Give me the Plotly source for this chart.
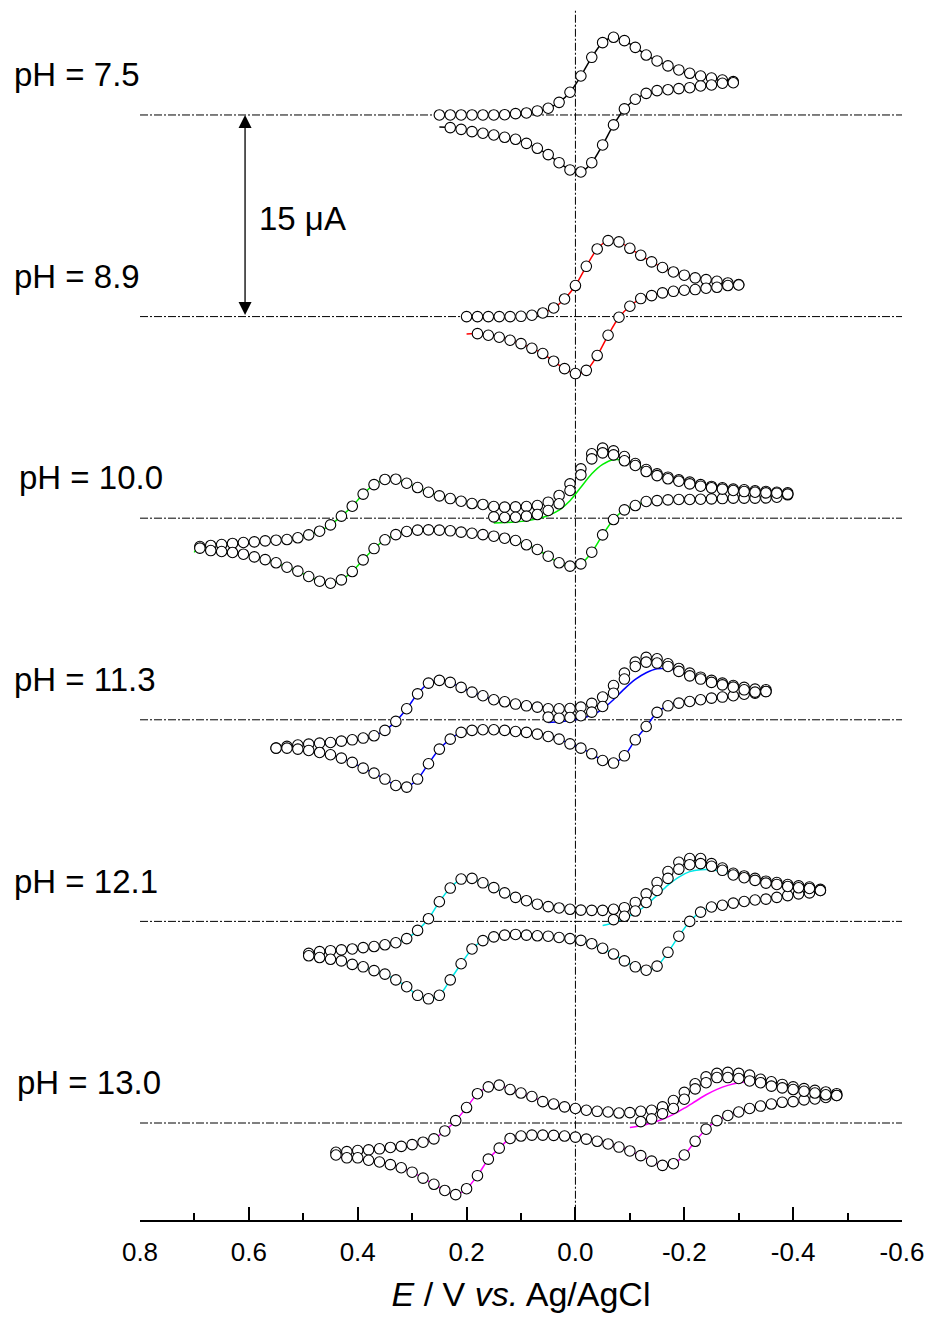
import plotly.graph_objects as go

# ---------------- data (E in V vs Ag/AgCl, I in µA relative to each baseline) ----------------
PH_LABELS = ["pH = 7.5", "pH = 8.9", "pH = 10.0", "pH = 11.3", "pH = 12.1", "pH = 13.0"]
OFFSETS = [75, 60, 45, 30, 15, 0]          # vertical stacking offsets, µA (15 µA apart)
LINE_COLORS = ["#000000", "#ff0000", "#00ee00", "#0000ff", "#00e8e8", "#ff00ff"]

# pH 7.5
E75_UP = [0.25, 0.23, 0.21, 0.19, 0.17, 0.15, 0.13, 0.11, 0.09, 0.07, 0.05, 0.03, 0.01, -0.01,
          -0.03, -0.05, -0.07, -0.09, -0.11, -0.13, -0.15, -0.17, -0.19, -0.21, -0.23, -0.25, -0.27, -0.29]
I75_UP = [0, 0, 0, 0, 0, 0, 0.02, 0.1, 0.15, 0.3, 0.5, 0.94, 1.69, 2.9,
          4.29, 5.38, 5.78, 5.53, 5.03, 4.46, 4.02, 3.65, 3.35, 3.1, 2.9, 2.75, 2.6, 2.48]
E75_LOW = [-0.29, -0.27, -0.25, -0.23, -0.21, -0.19, -0.17, -0.15, -0.13, -0.11, -0.09, -0.07, -0.05, -0.03,
           -0.01, 0.01, 0.03, 0.05, 0.07, 0.09, 0.11, 0.13, 0.15, 0.17, 0.19, 0.21, 0.23]
I75_LOW = [2.4, 2.36, 2.23, 2.16, 2.03, 1.96, 1.88, 1.81, 1.61, 1.17, 0.45, -0.74, -2.23, -3.55,
           -4.24, -4.09, -3.55, -2.95, -2.48, -2.11, -1.81, -1.66, -1.49, -1.36, -1.24, -1.07, -0.94]
E75_END, I75_END = 0.25, -0.9

# pH 8.9
E89_UP = [0.20, 0.18, 0.16, 0.14, 0.12, 0.10, 0.08, 0.06, 0.04, 0.02, 0.0, -0.02, -0.04, -0.06,
          -0.08, -0.10, -0.12, -0.14, -0.16, -0.18, -0.20, -0.22, -0.24, -0.26, -0.28, -0.30]
I89_UP = [0, 0, 0, 0, 0, 0.02, 0.1, 0.27, 0.64, 1.31, 2.31, 3.74, 5.03, 5.65,
          5.56, 5.08, 4.56, 4.07, 3.65, 3.32, 3.08, 2.88, 2.75, 2.63, 2.5, 2.38]
E89_LOW = [-0.30, -0.28, -0.26, -0.24, -0.22, -0.20, -0.18, -0.16, -0.14, -0.12, -0.10, -0.08, -0.06,
           -0.04, -0.02, 0.0, 0.02, 0.04, 0.06, 0.08, 0.10, 0.12, 0.14, 0.16, 0.18]
I89_LOW = [2.35, 2.31, 2.18, 2.11, 2.01, 1.96, 1.88, 1.76, 1.56, 1.34, 0.77, -0.05, -1.39,
           -2.9, -4.0, -4.24, -3.87, -3.32, -2.75, -2.36, -2.01, -1.76, -1.54, -1.39, -1.27]
E89_END, I89_END = 0.20, -1.29

# pH 10.0
E10_UP = [0.69, 0.67, 0.65, 0.63, 0.61, 0.59, 0.57, 0.55, 0.53, 0.51, 0.49, 0.47, 0.45, 0.43, 0.41,
          0.39, 0.37, 0.35, 0.33, 0.31, 0.29, 0.27, 0.25, 0.23, 0.21, 0.19, 0.17, 0.15, 0.13, 0.11,
          0.09, 0.07, 0.05, 0.03, 0.01, -0.01, -0.03, -0.05, -0.07, -0.09, -0.11, -0.13, -0.15, -0.17,
          -0.19, -0.21, -0.23, -0.25, -0.27, -0.29, -0.31, -0.33, -0.35, -0.37, -0.39]
I10_UP = [-2.11, -2.03, -1.96, -1.88, -1.81, -1.76, -1.69, -1.64, -1.59, -1.46, -1.24, -0.97, -0.5, 0.15,
          0.89, 1.79, 2.5, 2.88, 2.9, 2.6, 2.28, 1.93, 1.66, 1.46, 1.26, 1.09, 1.02, 0.87, 0.82,
          0.84, 0.87, 0.94, 1.19, 1.69, 2.55, 3.67, 4.79, 5.21, 5.01, 4.59, 4.07, 3.62, 3.3, 3.05,
          2.85, 2.68, 2.5, 2.36, 2.26, 2.16, 2.11, 2.03, 1.98, 1.93, 1.88]
E10_LOW = [-0.39, -0.37, -0.35, -0.33, -0.31, -0.29, -0.27, -0.25, -0.23, -0.21, -0.19, -0.17, -0.15,
           -0.13, -0.11, -0.09, -0.07, -0.05, -0.03, -0.01, 0.01, 0.03, 0.05, 0.07, 0.09, 0.11, 0.13,
           0.15, 0.17, 0.19, 0.21, 0.23, 0.25, 0.27, 0.29, 0.31, 0.33, 0.35, 0.37, 0.39, 0.41, 0.43,
           0.45, 0.47, 0.49, 0.51, 0.53, 0.55, 0.57, 0.59, 0.61, 0.63, 0.65, 0.67, 0.69]
I10_LOW = [1.74, 1.56, 1.51, 1.49, 1.49, 1.49, 1.46, 1.44, 1.41, 1.39, 1.39, 1.36, 1.31,
           1.24, 0.94, 0.62, -0.1, -1.24, -2.53, -3.4, -3.57, -3.32, -2.83, -2.33, -1.98, -1.66, -1.49,
           -1.34, -1.22, -1.12, -1.04, -0.94, -0.89, -0.87, -0.89, -0.99, -1.22, -1.61, -2.26, -3.1, -3.97,
           -4.59, -4.84, -4.69, -4.34, -3.94, -3.65, -3.32, -3.08, -2.88, -2.68, -2.55, -2.48, -2.41, -2.23]
E10_LINE_END, I10_LINE_END = 0.70, -2.5
E10_S1 = [0.15, 0.13, 0.11, 0.09, 0.07, 0.05, 0.03, 0.01, -0.01, -0.03, -0.05, -0.07, -0.09, -0.11,
          -0.13, -0.15, -0.17, -0.19, -0.21, -0.23, -0.25, -0.27, -0.29, -0.31, -0.33, -0.35, -0.37, -0.39]
I10_S1 = [0.1, 0.05, 0.07, 0.15, 0.27, 0.57, 1.07, 2.06, 3.22, 4.41, 4.86, 4.71, 4.27, 3.92,
          3.47, 3.17, 2.93, 2.75, 2.55, 2.38, 2.26, 2.16, 2.06, 1.98, 1.93, 1.88, 1.86, 1.79]
I10_SIM = [-0.35, -0.33, -0.28, -0.2, -0.05, 0.2, 0.6, 1.3, 2.3, 3.3, 4.0, 4.35, 4.3, 4.0,
           3.6, 3.25, 2.95, 2.75, 2.55, 2.4, 2.3, 2.2, 2.1, 2.0, 1.95, 1.9, 1.85, 1.8]

# pH 11.3
E11_UP = [0.55, 0.53, 0.51, 0.49, 0.47, 0.45, 0.43, 0.41, 0.39, 0.37, 0.35, 0.33, 0.31, 0.29, 0.27,
          0.25, 0.23, 0.21, 0.19, 0.17, 0.15, 0.13, 0.11, 0.09, 0.07, 0.05, 0.03, 0.01, -0.01, -0.03,
          -0.05, -0.07, -0.09, -0.11, -0.13, -0.15, -0.17, -0.19, -0.21, -0.23, -0.25, -0.27, -0.29,
          -0.31, -0.33, -0.35]
I11_UP = [-2.11, -1.98, -1.88, -1.81, -1.74, -1.69, -1.59, -1.49, -1.36, -1.19, -0.79, -0.12, 0.82, 1.93,
          2.73, 2.93, 2.78, 2.41, 2.06, 1.79, 1.49, 1.34, 1.17, 1.04, 0.94, 0.82, 0.82, 0.84, 0.94, 1.22,
          1.69, 2.55, 3.47, 4.29, 4.64, 4.54, 4.17, 3.82, 3.47, 3.17, 2.93, 2.73, 2.55, 2.41, 2.28, 2.23]
E11_LOW = [-0.35, -0.33, -0.31, -0.29, -0.27, -0.25, -0.23, -0.21, -0.19, -0.17, -0.15, -0.13, -0.11,
           -0.09, -0.07, -0.05, -0.03, -0.01, 0.01, 0.03, 0.05, 0.07, 0.09, 0.11, 0.13, 0.15, 0.17, 0.19,
           0.21, 0.23, 0.25, 0.27, 0.29, 0.31, 0.33, 0.35, 0.37, 0.39, 0.41, 0.43, 0.45, 0.47, 0.49,
           0.51, 0.53, 0.55]
I11_LOW = [2.11, 1.98, 1.9, 1.79, 1.69, 1.61, 1.49, 1.36, 1.24, 1.04, 0.55, -0.5, -1.49,
           -2.68, -3.22, -3.03, -2.53, -2.11, -1.79, -1.44, -1.24, -1.07, -0.94, -0.87, -0.79, -0.74, -0.74,
           -0.79, -0.94, -1.44, -2.18, -3.27, -4.41, -5.01, -4.89, -4.41, -3.97, -3.6, -3.17, -2.85, -2.6,
           -2.43, -2.28, -2.18, -2.11, -2.11]
E11_S1 = [0.05, 0.03, 0.01, -0.01, -0.03, -0.05, -0.07, -0.09, -0.11, -0.13, -0.15, -0.17, -0.19,
          -0.21, -0.23, -0.25, -0.27, -0.29, -0.31, -0.33, -0.35]
I11_S1 = [0.2, 0.12, 0.17, 0.3, 0.57, 0.99, 1.98, 3.03, 3.97, 4.29, 4.22, 3.97, 3.6,
          3.27, 3.03, 2.78, 2.6, 2.43, 2.23, 2.06, 2.1]
I11_SIM = [-0.2, -0.15, -0.05, 0.1, 0.35, 0.8, 1.5, 2.3, 3.0, 3.5, 3.8, 3.8, 3.65,
           3.4, 3.15, 2.95, 2.75, 2.55, 2.4, 2.25, 2.1]

# pH 12.1
E12_UP = [0.49, 0.47, 0.45, 0.43, 0.41, 0.39, 0.37, 0.35, 0.33, 0.31, 0.29, 0.27, 0.25, 0.23, 0.21,
          0.19, 0.17, 0.15, 0.13, 0.11, 0.09, 0.07, 0.05, 0.03, 0.01, -0.01, -0.03, -0.05, -0.07, -0.09,
          -0.11, -0.13, -0.15, -0.17, -0.19, -0.21, -0.23, -0.25, -0.27, -0.29, -0.31, -0.33, -0.35,
          -0.37, -0.39, -0.41, -0.43, -0.45]
I12_UP = [-2.38, -2.25, -2.18, -2.12, -2.05, -1.95, -1.87, -1.74, -1.59, -1.28, -0.67, 0.2, 1.46, 2.48,
          3.15, 3.2, 2.87, 2.51, 2.12, 1.79, 1.54, 1.28, 1.1, 1.0, 0.9, 0.84, 0.82, 0.82, 0.9, 1.02,
          1.41, 2.05, 2.89, 3.71, 4.4, 4.68, 4.68, 4.3, 3.97, 3.58, 3.38, 3.2, 2.99, 2.89, 2.74, 2.64,
          2.56, 2.38]
E12_LOW = [-0.45, -0.43, -0.41, -0.39, -0.37, -0.35, -0.33, -0.31, -0.29, -0.27, -0.25, -0.23, -0.21,
           -0.19, -0.17, -0.15, -0.13, -0.11, -0.09, -0.07, -0.05, -0.03, -0.01, 0.01, 0.03, 0.05, 0.07,
           0.09, 0.11, 0.13, 0.15, 0.17, 0.19, 0.21, 0.23, 0.25, 0.27, 0.29, 0.31, 0.33, 0.35, 0.37,
           0.39, 0.41, 0.43, 0.45, 0.47, 0.49]
I12_LOW = [2.3, 2.12, 2.05, 1.92, 1.79, 1.66, 1.59, 1.48, 1.36, 1.2, 1.07, 0.69, 0.0,
           -1.1, -2.3, -3.33, -3.63, -3.38, -2.94, -2.43, -2.0, -1.66, -1.41, -1.28, -1.2, -1.1, -1.07,
           -1.02, -0.97, -1.02, -1.15, -1.43, -2.05, -3.15, -4.35, -5.5, -5.76, -5.5, -4.86, -4.35, -3.92,
           -3.66, -3.38, -3.2, -2.94, -2.82, -2.69, -2.56]
E12_S1 = [-0.07, -0.09, -0.11, -0.13, -0.15, -0.17, -0.19, -0.21, -0.23, -0.25, -0.27, -0.29, -0.31,
          -0.33, -0.35, -0.37, -0.39, -0.41, -0.43, -0.45]
I12_S1 = [0.13, 0.38, 0.77, 1.41, 2.3, 3.2, 3.89, 4.22, 4.3, 4.1, 3.8, 3.45, 3.25,
          3.05, 2.85, 2.75, 2.6, 2.5, 2.45, 2.3]
E12_SIM = [-0.05, -0.07, -0.09, -0.11, -0.13, -0.15, -0.17, -0.19, -0.21, -0.23, -0.25, -0.27, -0.29,
           -0.31, -0.33, -0.35, -0.37, -0.39, -0.41, -0.43, -0.45]
I12_SIM = [-0.31, -0.1, 0.25, 0.64, 1.2, 1.95, 2.7, 3.3, 3.7, 3.85, 3.85, 3.7, 3.5,
           3.3, 3.1, 2.95, 2.8, 2.65, 2.5, 2.4, 2.3]

# pH 13.0
E13_UP = [0.44, 0.42, 0.40, 0.38, 0.36, 0.34, 0.32, 0.30, 0.28, 0.26, 0.24, 0.22, 0.20, 0.18, 0.16,
          0.14, 0.12, 0.10, 0.08, 0.06, 0.04, 0.02, 0.0, -0.02, -0.04, -0.06, -0.08, -0.10, -0.12, -0.14,
          -0.16, -0.18, -0.20, -0.22, -0.24, -0.26, -0.28, -0.30, -0.32, -0.34, -0.36, -0.38, -0.40,
          -0.42, -0.44, -0.46, -0.48]
I13_UP = [-2.18, -2.13, -2.05, -2.0, -1.92, -1.82, -1.74, -1.61, -1.43, -1.18, -0.59, 0.18, 1.15, 2.18,
          2.69, 2.82, 2.49, 2.23, 1.97, 1.59, 1.41, 1.2, 1.08, 0.95, 0.87, 0.82, 0.74, 0.77, 0.87, 0.95,
          1.2, 1.67, 2.28, 2.92, 3.43, 3.69, 3.77, 3.69, 3.56, 3.25, 3.07, 2.87, 2.69, 2.56, 2.43, 2.31,
          2.18]
E13_LOW = [-0.48, -0.46, -0.44, -0.42, -0.40, -0.38, -0.36, -0.34, -0.32, -0.30, -0.28, -0.26, -0.24,
           -0.22, -0.20, -0.18, -0.16, -0.14, -0.12, -0.10, -0.08, -0.06, -0.04, -0.02, 0.0, 0.02, 0.04,
           0.06, 0.08, 0.10, 0.12, 0.14, 0.16, 0.18, 0.20, 0.22, 0.24, 0.26, 0.28, 0.30, 0.32, 0.34,
           0.36, 0.38, 0.40, 0.42, 0.44]
I13_LOW = [2.05, 1.9, 1.79, 1.72, 1.59, 1.54, 1.41, 1.26, 1.08, 0.82, 0.56, 0.18, -0.46,
           -1.36, -2.38, -3.03, -3.15, -2.84, -2.43, -2.08, -1.79, -1.56, -1.36, -1.2, -1.05, -0.97, -0.92,
           -0.9, -0.9, -0.97, -1.15, -1.87, -2.69, -3.92, -4.89, -5.33, -5.02, -4.56, -4.1, -3.66, -3.33,
           -3.1, -2.9, -2.77, -2.59, -2.59, -2.38]
E13_S1 = [-0.12, -0.14, -0.16, -0.18, -0.20, -0.22, -0.24, -0.26, -0.28, -0.30, -0.32, -0.34, -0.36,
          -0.38, -0.40, -0.42, -0.44, -0.46, -0.48]
I13_S1 = [0.1, 0.31, 0.69, 1.08, 1.77, 2.54, 3.0, 3.38, 3.38, 3.31, 3.13, 3.0, 2.74,
          2.61, 2.49, 2.36, 2.23, 2.1, 2.05]
E13_SIM = [-0.10, -0.12, -0.14, -0.16, -0.18, -0.20, -0.22, -0.24, -0.26, -0.28, -0.30, -0.32, -0.34,
           -0.36, -0.38, -0.40, -0.42, -0.44, -0.46, -0.48]
I13_SIM = [-0.33, -0.2, 0.0, 0.28, 0.64, 1.1, 1.6, 2.1, 2.5, 2.8, 3.0, 3.05, 3.0,
           2.9, 2.75, 2.6, 2.45, 2.3, 2.15, 2.0]

X_TICKS = [0.8, 0.6, 0.4, 0.2, 0.0, -0.2, -0.4, -0.6]
X_TICK_TEXT = ["0.8", "0.6", "0.4", "0.2", "0.0", "-0.2", "-0.4", "-0.6"]
X_MINOR = [0.7, 0.5, 0.3, 0.1, -0.1, -0.3, -0.5]
SCALE_BAR_UA = 15

# ---------------- assemble curves ----------------
FONT = "Liberation Sans, Arial, Helvetica, sans-serif"
curves = [
    dict(ue=E75_UP, ui=I75_UP, le=E75_LOW, li=I75_LOW, end=(E75_END, I75_END)),
    dict(ue=E89_UP, ui=I89_UP, le=E89_LOW, li=I89_LOW, end=(E89_END, I89_END)),
    dict(ue=E10_UP, ui=I10_UP, le=E10_LOW, li=I10_LOW, se=E10_S1, si=I10_S1, me=E10_S1, mi=I10_SIM,
         turn=(E10_LINE_END, I10_LINE_END)),
    dict(ue=E11_UP, ui=I11_UP, le=E11_LOW, li=I11_LOW, se=E11_S1, si=I11_S1, me=E11_S1, mi=I11_SIM),
    dict(ue=E12_UP, ui=I12_UP, le=E12_LOW, li=I12_LOW, se=E12_S1, si=I12_S1, me=E12_SIM, mi=I12_SIM),
    dict(ue=E13_UP, ui=I13_UP, le=E13_LOW, li=I13_LOW, se=E13_S1, si=I13_S1, me=E13_SIM, mi=I13_SIM),
]

fig = go.Figure()
marker = dict(symbol="circle", size=10.5, color="white", line=dict(color="black", width=1.1))

for c, off, col in zip(curves, OFFSETS, LINE_COLORS):
    if "me" in c:
        e_start = c["me"][0]
        k = sum(1 for e in c["ue"] if e > e_start + 1e-9)
        lx = list(c["me"]) + list(c["le"])
        ly = list(c["mi"]) + list(c["li"])
        if "turn" in c:
            lx += [c["turn"][0]]
            ly += [c["turn"][1]]
        lx += list(c["ue"][:k + 1])
        ly += list(c["ui"][:k + 1])
    else:
        lx = list(c["ue"]) + list(c["le"]) + [c["end"][0]]
        ly = list(c["ui"]) + list(c["li"]) + [c["end"][1]]
    fig.add_trace(go.Scatter(x=lx, y=[v + off for v in ly], mode="lines",
                             line=dict(color=col, width=1.5, shape="spline", smoothing=0.8),
                             hoverinfo="skip", showlegend=False))
    mx = list(c["ue"]) + list(c["le"])
    my = list(c["ui"]) + list(c["li"])
    if "se" in c:
        mx += list(c["se"])
        my += list(c["si"])
    fig.add_trace(go.Scatter(x=mx, y=[v + off for v in my], mode="markers", marker=marker,
                             showlegend=False, hoverinfo="skip"))

# ---------------- reference lines ----------------
DASH = "8px,2px,2px,2px"
shapes = []
for off in OFFSETS:
    shapes.append(dict(type="line", xref="paper", x0=0, x1=1, yref="y", y0=off, y1=off,
                       line=dict(color="black", width=1, dash=DASH), layer="below"))
shapes.append(dict(type="line", xref="x", x0=0, x1=0, yref="paper", y0=0.006, y1=1,
                   line=dict(color="black", width=1, dash=DASH), layer="below"))

# ---------------- annotations ----------------
L_MARGIN, PLOT_W = 140, 762
label_px = [12, 12, 17, 12, 12, 15]
annotations = []
for lab, off, px in zip(PH_LABELS, OFFSETS, label_px):
    annotations.append(dict(text=lab, xref="paper", x=(px - L_MARGIN) / PLOT_W, xanchor="left",
                            yref="y", y=off + 3.0, yanchor="middle", showarrow=False,
                            font=dict(family=FONT, size=33, color="black")))
bar_x = 0.607
annotations.append(dict(text="", x=bar_x, y=OFFSETS[0], ax=bar_x, ay=OFFSETS[0] - SCALE_BAR_UA,
                        xref="x", yref="y", axref="x", ayref="y", showarrow=True,
                        arrowhead=2, arrowside="end+start", arrowsize=2.0, arrowwidth=1.3,
                        arrowcolor="black", standoff=0, startstandoff=0))
annotations.append(dict(text=f"{SCALE_BAR_UA} μA", xref="paper", x=(257 - L_MARGIN) / PLOT_W,
                        xanchor="left", yref="y", y=OFFSETS[0] - SCALE_BAR_UA / 2 - 0.2,
                        yanchor="middle", showarrow=False,
                        font=dict(family=FONT, size=33, color="black")))

fig.update_layout(
    width=929, height=1324,
    margin=dict(l=140, r=27, t=10, b=104, autoexpand=False),
    paper_bgcolor="white", plot_bgcolor="white",
    shapes=shapes, annotations=annotations,
    xaxis=dict(range=[0.8, -0.6], showgrid=False, zeroline=False, automargin=False,
               showline=True, linecolor="black", linewidth=2,
               ticks="inside", ticklen=13, tickwidth=2, tickcolor="black",
               tickvals=X_TICKS, ticktext=X_TICK_TEXT, ticklabelstandoff=8,
               tickfont=dict(family=FONT, size=26, color="black"),
               minor=dict(tickvals=X_MINOR, ticks="inside", ticklen=7, tickwidth=2, tickcolor="black"),
               title=dict(text="<i>E</i> / V <i>vs.</i> Ag/AgCl", standoff=16,
                          font=dict(family=FONT, size=34, color="black"))),
    yaxis=dict(visible=False, range=[-7.217, 82.81]),
    showlegend=False,
)

# remove the default 8px page margin so the 929x1324 figure fills the window exactly
fig.write_html("out.html", config={"displayModeBar": False},
               post_script="document.body.style.margin='0px';document.body.style.overflow='hidden';")
